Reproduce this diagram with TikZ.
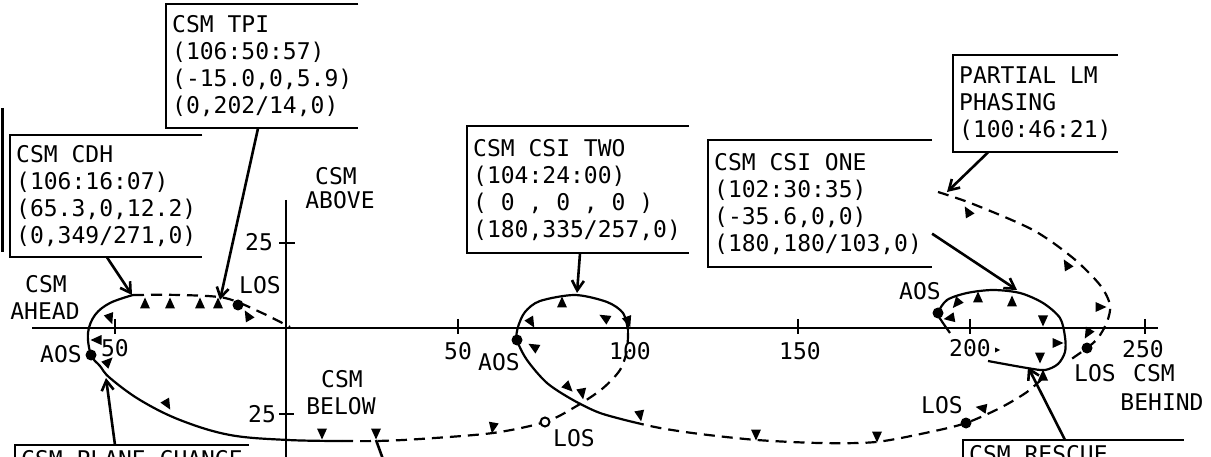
\documentclass[tikz,border=0pt]{standalone}
\usepackage{fontspec}
\newfontfamily\mono{DejaVu Sans Mono}
\usetikzlibrary{arrows.meta}
\tikzset{
  box/.style={anchor=north west, font=\mono\fontsize{23}{27}\selectfont, align=left, inner xsep=6pt, inner ysep=9pt},
  boxline/.style={line width=2pt},
  lab/.style={font=\mono\fontsize{23}{27}\selectfont, inner sep=0pt},
  traj/.style={line width=2.2pt},
  trajd/.style={line width=2.2pt, dash pattern=on 11pt off 7pt},
  lead/.style={line width=2.6pt, -{Straight Barb[length=10pt,width=12pt]}},
  axisline/.style={line width=2.2pt},
}
\newcommand\mk[3]{\fill[shift={(#1,#2)},rotate=-#3] (0,-6.5) -- (5,4.5) -- (-5,4.5) -- cycle;}
\newcommand\openbox[2]{\draw[boxline] ([xshift=#2]#1.north east) -- (#1.north west) -- (#1.south west) -- ([xshift=#2]#1.south east);}
\begin{document}
\begin{tikzpicture}[x=1pt,y=-1pt]
\useasboundingbox (0,0) rectangle (1211,457);
\clip (0,0) rectangle (1211,457);
% axes
\coordinate (xl) at (32,328); \coordinate (xr) at (1158,328);
\coordinate (yt) at (286,200); \coordinate (yb) at (286,470);
\draw[axisline] (xl) -- (xr);
\draw[axisline] (yt) -- (yb);
\foreach \x in {115,458,628,798,970,1145} {\draw[axisline] (\x,319) -- (\x,334);}
\draw[axisline] (279,243) -- (295,243);
\draw[axisline] (279,414) -- (294,414);
% left edge line
\draw[line width=3pt] (2,108) -- (2,252);
% axis labels
\node[lab] (l50a) at (115,348) {50};
\node[lab] (l50b) at (458,351) {50};
\node[lab] (l100) at (630,351) {100};
\node[lab] (l150) at (800,351) {150};
\node[lab] (l200) at (970,348) {200};
\node[lab] (l250) at (1143,349) {250};
\node[lab] (l25a) at (259,242) {25};
\node[lab] (l25b) at (262,414) {25};
\node[lab] (ahead1) at (46,284) {CSM};
\node[lab] (ahead2) at (45,311) {AHEAD};
\node[lab] (above1) at (336,176) {CSM};
\node[lab] (above2) at (340,200) {ABOVE};
\node[lab] (below1) at (342,379) {CSM};
\node[lab] (below2) at (341,406) {BELOW};
\node[lab] (behind1) at (1154,373) {CSM};
\node[lab] (behind2) at (1162,402) {BEHIND};
\node[lab] (aos1) at (61,354) {AOS};
\node[lab] (los1) at (260,285) {LOS};
\node[lab] (aos2) at (499,362) {AOS};
\node[lab] (los2) at (574,438) {LOS};
\node[lab] (aos3) at (920,291) {AOS};
\node[lab] (los3) at (942,405) {LOS};
\node[lab] (los4) at (1095,373) {LOS};
% trajectory
\draw[traj] plot[smooth,tension=0.6] coordinates {(133,295) (110,303) (95,315) (88,333) (91,355) (100,366) (110,378) (140,400) (180,420) (230,435) (288,440) (342,441)};
\draw[trajd] plot[smooth] coordinates {(133,295) (180,295) (225,298) (260,312) (290,327)};
\draw[trajd] plot[smooth] coordinates {(342,441) (377,441) (420,439) (493,433) (545,422) (575,407) (602,389) (620,370) (627,350) (628,330)};
\draw[traj] plot[smooth] coordinates {(628,330) (623,313) (607,302) (575,295) (540,301) (525,312) (518,327) (517,340) (527,360) (547,383) (573,400) (600,413) (633,422)};
\draw[trajd] plot[smooth] coordinates {(633,422) (660,428) (700,434) (757,440) (820,443) (876,442) (930,432) (966,423) (1000,408) (1027,392) (1045,376)};
\draw[traj] plot[smooth] coordinates {(950,333) (941,320) (938,313) (947,300) (967,293) (993,290) (1020,293) (1043,303) (1060,318) (1065,337) (1065,352) (1058,364) (1045,370) (1027,368) (988,361)};
\draw[trajd] plot[smooth] coordinates {(938,192) (973,204) (1033,230) (1073,258) (1100,285) (1110,305) (1107,322) (1098,338) (1087,348) (1070,360)};
% dots
\foreach \p in {(91,355),(238,305),(517,340),(938,313),(1087,348),(966,423)} {\fill \p circle (5.5);}
\draw[line width=2pt, fill=white] (545,422) circle (4.5);
% markers
\mk{145}{304}{0} \mk{170}{304}{0} \mk{200}{304}{0} \mk{218}{304}{0}
\mk{248}{316}{330} \mk{110}{318}{160} \mk{97}{340}{270} \mk{108}{362}{45}
\mk{167}{404}{150} \mk{322}{433}{180} \mk{376}{433}{180} \mk{493}{427}{190}
\mk{562}{303}{0} \mk{605}{318}{300} \mk{628}{321}{160} \mk{531}{322}{150}
\mk{534}{347}{300} \mk{568}{387}{135} \mk{582}{393}{170} \mk{640}{415}{170}
\mk{756}{434}{180} \mk{877}{436}{180}
\mk{982}{408}{280} \mk{957}{303}{220} \mk{950}{318}{260} \mk{978}{298}{0}
\mk{1012}{302}{0} \mk{1043}{320}{180} \mk{1057}{343}{90} \mk{1040}{357}{180}
\mk{1043}{376}{0} \mk{1100}{307}{90} \mk{1088}{333}{210} \mk{968}{212}{330}
\mk{1067}{265}{330}
\fill[shift={(997,350)},rotate=-90] (0,-3) -- (2.5,2) -- (-2.5,2) -- cycle;
% boxes
\node[box, minimum height=122pt] (cdh) at (10,135) {CSM CDH\\(106:16:07)\\(65.3,0,12.2)\\(0,349/271,0)};
\node[box, minimum height=124pt] (tpi) at (166,4) {CSM TPI\\(106:50:57)\\(-15.0,0,5.9)\\(0,202/14,0)};
\node[box, minimum height=127pt] (csitwo) at (467,126) {CSM CSI TWO\\(104:24:00)\\( 0 , 0 , 0 )\\(180,335/257,0)};
\node[box, minimum height=127pt] (csione) at (708,140) {CSM CSI ONE\\(102:30:35)\\(-35.6,0,0)\\(180,180/103,0)};
\node[box, minimum height=97pt] (partial) at (953,55) {PARTIAL LM\\PHASING\\(100:46:21)};
\node[box, inner ysep=5pt] (plane) at (15,445) {CSM PLANE CHANGE};
\node[box, inner ysep=5pt] (rescue) at (963,440) {CSM RESCUE};
\openbox{cdh}{0pt} \openbox{tpi}{0pt} \openbox{csitwo}{2pt} \openbox{csione}{4pt} \openbox{partial}{0pt} \openbox{plane}{0pt} \openbox{rescue}{70pt}
% leaders
\coordinate (cdhT) at (132,295);
\coordinate (tpiT) at (220,300);
\coordinate (twoT) at (577,293);
\coordinate (oneT) at (1017,290);
\coordinate (parT) at (947,192);
\coordinate (plaT) at (106,378);
\coordinate (resT) at (1028,367);
\draw[lead] ([xshift=97pt]cdh.south west) -- (cdhT);
\draw[lead] ([xshift=92pt]tpi.south west) -- (tpiT);
\draw[lead] ([xshift=113pt]csitwo.south west) -- (twoT);
\draw[lead] ([xshift=4pt,yshift=-30pt]csione.east) -- (oneT);
\draw[lead] ([xshift=35pt]partial.south west) -- (parT);
\draw[lead] ([xshift=100pt]plane.north west) -- (plaT);
\draw[lead] ([xshift=102pt]rescue.north west) -- (resT);
\coordinate (ex1) at (376,440); \coordinate (ex2) at (384,462);
\draw[line width=2.6pt] (ex2) -- (ex1);
\end{tikzpicture}
\end{document}
